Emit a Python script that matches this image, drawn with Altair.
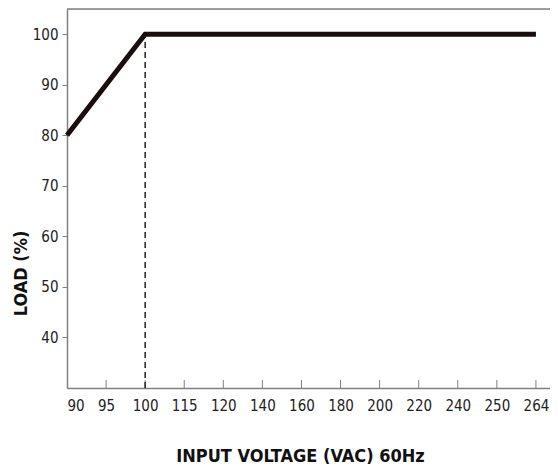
import altair as alt
import pandas as pd

x_labels = ["90", "95", "100", "115", "120", "140", "160", "180", "200", "220", "240", "250", "264"]
line_x = ["90", "100", "264"]
line_load = [80, 100, 100]
dash_x = ["100", "100"]
dash_load = [30, 100]
y_ticks = [40, 50, 60, 70, 80, 90, 100]

FONT = "DejaVu Sans Condensed, Liberation Sans Narrow, sans-serif"
W, H = 483, 379

line_df = pd.DataFrame({"idx": [x_labels.index(v) for v in line_x], "load": line_load})
dash_df = pd.DataFrame({"idx": [x_labels.index(v) for v in dash_x], "load": dash_load})
tick_df = pd.DataFrame({"idx": list(range(1, len(x_labels)))})

label_arr = "[" + ",".join("'%s'" % l for l in x_labels) + "]"

xscale = alt.Scale(domain=[0, 12.36], nice=False, zero=False)
yscale = alt.Scale(domain=[30, 105], nice=False, zero=False)

xaxis = alt.Axis(
    values=list(range(len(x_labels))),
    labelExpr=label_arr + "[datum.value]",
    ticks=False, grid=False, domainColor="#808080", domainWidth=1.5,
    labelFont=FONT, labelFontSize=15, labelColor="#222", labelPadding=10,
    title="INPUT VOLTAGE (VAC) 60Hz", titleFont=FONT, titleFontSize=18,
    titleFontWeight="bold", titleColor="#111", titleX=233, titleY=73,
    titleAnchor="middle", titleBaseline="alphabetic",
)
yaxis = alt.Axis(
    values=y_ticks, grid=False, domainColor="#808080", domainWidth=1.5,
    tickColor="#808080", tickSize=5, tickWidth=1,
    labelFont=FONT, labelFontSize=15, labelColor="#222", labelPadding=4,
    title="LOAD (%)", titleFont=FONT, titleFontSize=18, titleFontWeight="bold",
    titleColor="#111", titleX=-37, titleY=264, titleAngle=270,
    titleAnchor="middle", titleBaseline="bottom",
)

base_line = alt.Chart(line_df).mark_line(
    color="#1a0d0d", strokeWidth=5, strokeCap="butt", strokeJoin="miter"
).encode(
    x=alt.X("idx:Q", scale=xscale, axis=xaxis),
    y=alt.Y("load:Q", scale=yscale, axis=yaxis),
)

dash = alt.Chart(dash_df).mark_line(
    color="#222", strokeWidth=1.5, strokeDash=[6, 4]
).encode(
    x=alt.X("idx:Q", scale=xscale),
    y=alt.Y("load:Q", scale=yscale),
)

ticks = alt.Chart(tick_df).mark_rule(color="#808080", strokeWidth=1).encode(
    x=alt.X("idx:Q", scale=xscale),
    y=alt.value(H),
    y2=alt.value(H - 8),
)

topline = alt.Chart(pd.DataFrame({"a": [0]})).mark_rule(color="#808080", strokeWidth=1.5).encode(
    x=alt.value(0), x2=alt.value(W), y=alt.value(0)
)

chart = alt.layer(topline, ticks, dash, base_line).properties(
    width=W, height=H,
    autosize=alt.AutoSizeParams(type="none"),
    padding={"left": 59, "top": 1, "right": 0, "bottom": 77},
).configure_view(stroke=None).configure(background="white")

chart.save("out.html", embed_options={"renderer": "svg", "actions": False})
